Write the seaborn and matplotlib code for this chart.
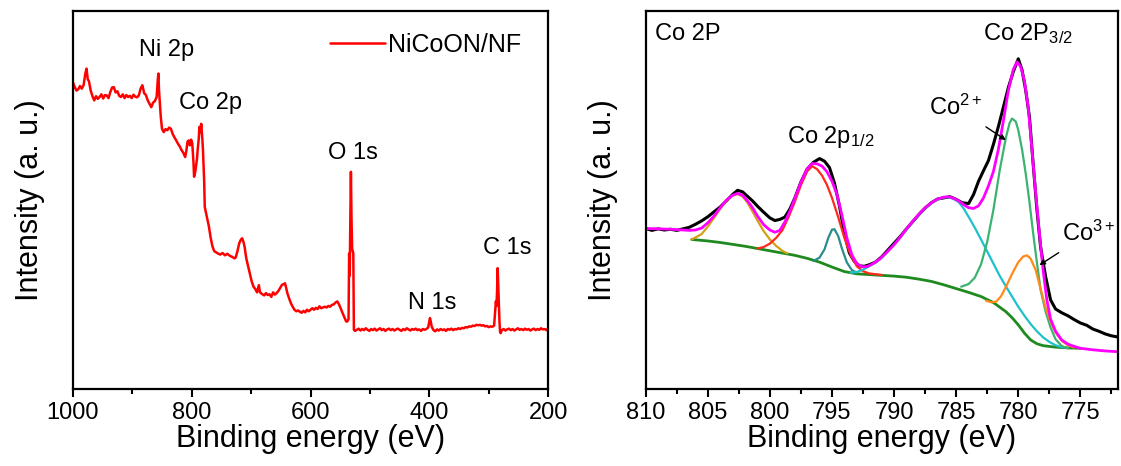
import seaborn as sns
import matplotlib.pyplot as plt
from matplotlib.ticker import MultipleLocator

# ---- survey spectrum (left) ----
survey_be = [1000, 997, 994, 991, 988, 985, 982, 979, 977, 975, 973, 970, 967, 964, 961, 958, 955, 952, 949, 946,
             943, 940, 937, 934, 931, 928, 925, 922, 919, 916, 913, 910, 907, 904, 901, 898, 895, 892, 889, 886,
             883, 880, 877, 874, 871, 868, 865, 862, 859, 857, 856, 855, 854, 852, 850, 847, 844, 841, 838, 835,
             832, 829, 826, 823, 820, 817, 814, 811, 809, 807, 805, 803, 801, 799, 797, 796, 794, 793, 791, 790,
             788, 787, 785, 784, 782, 781, 779, 778, 775, 773, 771, 768, 765, 762, 759, 756, 752, 748, 744, 740,
             736, 732, 728, 726, 723, 720, 717, 715, 713, 711, 708, 705, 702, 699, 696, 693, 690, 687, 685, 682,
             678, 675, 672, 669, 666, 663, 660, 657, 654, 651, 648, 645, 643, 641, 639, 636, 633, 630, 627, 624,
             621, 618, 615, 612, 609, 606, 603, 600, 597, 594, 591, 588, 585, 582, 579, 576, 573, 570, 567, 564,
             561, 558, 555, 552, 549, 546, 543, 540, 538, 536, 535, 534, 533, 532, 531, 530, 529, 528, 527, 525,
             522, 519, 516, 513, 510, 507, 504, 501, 498, 495, 492, 489, 486, 483, 480, 477, 474, 471, 468, 465,
             462, 459, 456, 453, 450, 447, 444, 441, 438, 435, 432, 429, 426, 423, 420, 417, 414, 411, 408, 405,
             402, 400, 399, 398, 396, 393, 390, 387, 384, 381, 378, 375, 372, 369, 366, 363, 360, 357, 354, 351,
             348, 345, 342, 339, 336, 333, 330, 327, 324, 321, 318, 315, 312, 309, 306, 303, 300, 297, 294, 291,
             289, 288, 287, 286, 285, 284, 283, 282, 281, 280, 278, 275, 272, 269, 266, 263, 260, 257, 254, 251,
             248, 245, 242, 239, 236, 233, 230, 227, 224, 221, 218, 215, 212, 209, 206, 203, 200]
survey_int = [81.2, 80.0, 79.0, 79.3, 80.2, 79.5, 80.4, 83.5, 84.8, 82.0, 81.5, 79.0, 77.5, 76.4, 77.5, 76.8, 77.3, 78.0, 76.9, 77.8,
              77.7, 77.0, 78.6, 79.8, 79.9, 78.5, 78.8, 77.6, 77.3, 78.0, 77.0, 77.8, 77.3, 77.6, 77.0, 77.9, 77.4, 77.2, 77.7, 79.5,
              80.4, 78.3, 77.8, 76.4, 75.5, 74.6, 75.8, 76.2, 77.3, 82.0, 83.5, 79.0, 76.4, 72.0, 68.9, 68.0, 68.8, 68.5, 69.2, 68.9,
              67.5, 66.6, 65.8, 64.9, 64.2, 63.2, 62.5, 61.4, 63.0, 65.5, 65.8, 64.5, 66.0, 65.0, 60.0, 56.2, 57.5, 58.8, 61.0, 63.2,
              66.5, 69.4, 68.0, 70.2, 66.0, 63.2, 55.0, 48.2, 46.0, 44.5, 43.0, 40.0, 37.7, 36.5, 36.2, 35.9, 35.6, 36.0, 35.4, 35.8,
              35.3, 35.0, 34.6, 34.8, 36.5, 38.6, 39.6, 39.9, 39.0, 37.7, 34.5, 32.4, 30.5, 28.5, 27.1, 26.5, 25.6, 27.5, 25.6, 25.2,
              24.8, 25.4, 24.9, 25.1, 24.4, 25.6, 25.0, 25.4, 26.0, 26.8, 27.6, 27.8, 28.0, 26.8, 25.4, 24.0, 22.7, 21.8, 21.0, 20.6,
              20.8, 20.5, 20.2, 20.7, 20.3, 21.0, 20.6, 21.0, 21.4, 21.0, 21.5, 21.2, 21.9, 21.4, 21.6, 21.8, 21.6, 22.0, 21.8, 22.3,
              22.4, 22.9, 23.2, 22.4, 21.3, 20.1, 19.0, 17.9, 17.9, 18.5, 35.9, 30.0, 45.0, 57.5, 45.0, 37.2, 36.5, 35.9, 15.7, 15.4,
              15.7, 16.0, 15.5, 15.9, 15.6, 16.1, 15.7, 15.4, 15.9, 15.6, 16.0, 15.5, 15.8, 16.1, 15.6, 15.9, 15.4, 15.8, 16.0, 15.6,
              15.9, 15.5, 15.8, 16.0, 15.7, 15.4, 15.9, 15.6, 16.1, 15.8, 15.5, 15.9, 15.7, 16.0, 15.6, 15.8, 15.4, 15.9, 15.7, 15.9,
              16.3, 18.0, 18.8, 18.2, 16.5, 15.6, 15.3, 15.8, 15.5, 15.9, 15.6, 15.8, 15.4, 15.9, 15.7, 16.0, 15.6, 15.9, 15.8, 16.1,
              15.9, 16.2, 16.1, 16.4, 16.3, 16.6, 16.5, 16.8, 16.7, 17.0, 16.9, 17.0, 16.8, 16.9, 16.6, 16.7, 16.4, 16.6, 16.5, 16.8,
              21.0, 23.2, 22.0, 26.0, 32.0, 27.0, 22.7, 18.0, 15.2, 14.8, 15.6, 15.9, 15.5, 15.8, 16.0, 15.6, 15.9, 15.5, 15.8, 16.1,
              15.7, 15.9, 15.6, 16.0, 15.7, 15.9, 15.5, 15.8, 16.0, 15.6, 15.9, 15.7, 16.1, 15.8, 15.9, 15.6, 16.1]
survey_peaks = ["Ni 2p", "Co 2p", "O 1s", "N 1s", "C 1s"]
survey_peak_be = [843, 768, 528, 395, 269]
survey_peak_y = [89.7, 75.7, 62.4, 22.7, 37.3]

# ---- Co 2p high resolution (right) ----
raw_be = [810.0, 809.5, 809.0, 808.5, 808.0, 807.5, 807.0, 806.5, 806.0, 805.5, 805.0, 804.5, 804.0, 803.5, 803.0,
          802.6, 802.2, 801.8, 801.4, 801.0, 800.5, 800.0, 799.6, 799.2, 798.8, 798.4, 798.0, 797.5, 797.0, 796.5,
          796.0, 795.6, 795.2, 794.8, 794.4, 794.0, 793.6, 793.2, 792.8, 792.4, 792.0, 791.5, 791.0, 790.5, 790.0,
          789.5, 789.0, 788.5, 788.0, 787.5, 787.0, 786.5, 786.0, 785.5, 785.0, 784.5, 784.0, 783.6, 783.2, 782.8,
          782.4, 782.0, 781.6, 781.2, 780.8, 780.4, 780.0, 779.7, 779.4, 779.1, 778.8, 778.5, 778.2, 777.8, 777.4,
          777.0, 776.5, 776.0, 775.5, 775.0, 774.5, 774.0, 773.5, 773.0, 772.5, 772.0]
raw_int = [42.5, 42.0, 42.4, 42.1, 42.3, 42.0, 42.4, 42.8, 43.6, 44.5, 45.6, 46.9, 48.2, 49.8, 51.5,
           52.6, 52.2, 51.0, 49.8, 48.4, 46.8, 45.3, 44.6, 44.9, 45.5, 47.6, 50.5, 54.8, 58.2, 60.0,
           61.0, 60.3, 58.6, 54.5, 48.5, 41.2, 36.0, 33.8, 32.6, 32.5, 32.9, 33.6, 35.0, 36.8, 38.6,
           40.4, 42.4, 44.3, 46.2, 47.9, 49.3, 50.3, 50.6, 50.9, 50.2, 49.3, 49.1, 51.5, 55.0, 57.8,
           60.5, 64.8, 69.5, 74.6, 79.8, 84.0, 87.4, 84.5, 79.0, 72.0, 59.5, 47.5, 37.5, 29.8, 23.6,
           21.2, 20.2, 19.4, 18.4, 17.5, 16.9, 15.9, 15.3, 14.6, 14.1, 13.8]

fit_be = [810.0, 808.0, 806.5, 806.0, 805.5, 805.0, 804.5, 804.0, 803.5, 803.0, 802.6, 802.2, 801.8, 801.4, 801.0,
          800.5, 800.0, 799.6, 799.2, 798.8, 798.4, 798.0, 797.5, 797.0, 796.6, 796.2, 795.8, 795.4, 795.0, 794.6,
          794.2, 793.8, 793.4, 793.0, 792.6, 792.2, 791.8, 791.2, 790.5, 790.0, 789.5, 789.0, 788.5, 788.0, 787.5,
          787.0, 786.5, 786.0, 785.6, 785.2, 784.8, 784.4, 784.0, 783.6, 783.2, 782.8, 782.4, 782.0, 781.6, 781.2,
          780.8, 780.4, 780.1, 779.8, 779.5, 779.2, 778.9, 778.6, 778.3, 778.0, 777.7, 777.4, 777.0, 776.5, 776.0,
          775.5, 775.0, 774.0, 773.0, 772.0]
fit_int = [42.5, 42.3, 42.0, 42.1, 42.6, 44.0, 45.8, 48.0, 50.0, 51.3, 51.8, 51.3, 49.8, 48.0, 45.8,
           43.5, 42.1, 41.5, 42.0, 44.2, 47.0, 50.4, 54.8, 58.3, 59.7, 59.6, 59.0, 57.5, 55.0, 51.5,
           46.0, 40.0, 35.5, 33.2, 32.4, 32.4, 33.0, 34.3, 36.5, 38.2, 40.2, 42.4, 44.4, 46.3, 48.0,
           49.3, 50.3, 50.8, 50.9, 50.5, 49.8, 48.8, 48.0, 47.8, 48.5, 50.6, 53.8, 57.6, 63.5, 71.0,
           79.0, 84.6, 86.6, 85.3, 81.5, 74.5, 63.4, 52.0, 41.2, 31.5, 23.6, 18.5, 15.3, 13.0, 11.9,
           11.3, 10.8, 10.4, 10.1, 9.9]

bg_be = [806.3, 805.0, 804.0, 803.0, 802.0, 801.0, 800.0, 799.0, 798.0, 797.0, 796.0, 795.0, 794.0, 793.0, 792.0,
         791.0, 790.0, 789.0, 788.0, 787.0, 786.0, 785.0, 784.0, 783.0, 782.0, 781.0, 780.5, 780.0, 779.5, 779.0,
         778.5, 778.0, 777.0, 776.0, 775.0]
bg_int = [39.6, 39.2, 38.8, 38.3, 37.8, 37.2, 36.6, 36.0, 35.4, 34.6, 33.6, 32.3, 31.1, 30.5, 30.3,
          30.1, 29.9, 29.6, 29.1, 28.5, 27.6, 26.6, 25.6, 24.5, 22.9, 20.5, 18.9, 17.0, 14.8, 13.0,
          12.0, 11.5, 11.1, 10.9, 10.8]

sat1_be = [806.3, 805.5, 805.0, 804.5, 804.0, 803.5, 803.0, 802.6, 802.2, 801.8, 801.4, 801.0, 800.5, 800.0, 799.5,
           799.0, 798.6]
sat1_int = [39.6, 41.0, 43.0, 45.3, 47.7, 49.8, 51.2, 51.6, 51.0, 49.3, 47.0, 44.6, 41.8, 39.6, 37.9,
            36.6, 35.9]

p12_be = [801.0, 800.5, 800.0, 799.5, 799.0, 798.5, 798.0, 797.5, 797.0, 796.6, 796.2, 795.8, 795.4, 795.0, 794.5,
          794.0, 793.5, 793.0, 792.5, 792.0, 791.0]
p12_int = [37.2, 37.6, 38.5, 40.0, 42.0, 45.5, 49.5, 54.0, 57.6, 59.0, 58.2, 56.5, 54.0, 50.6, 45.5,
           40.0, 35.5, 32.5, 31.2, 30.6, 30.2]

p12b_be = [796.5, 796.0, 795.6, 795.3, 795.0, 794.8, 794.5, 794.2, 793.8, 793.4, 793.0]
p12b_int = [33.9, 34.8, 37.0, 40.0, 42.2, 42.3, 40.5, 37.2, 33.5, 31.5, 30.8]

sat2_be = [793.5, 793.0, 792.5, 792.0, 791.5, 791.0, 790.5, 790.0, 789.5, 789.0, 788.5, 788.0, 787.5, 787.0, 786.5,
           786.0, 785.6, 785.2, 784.8, 784.4, 784.0, 783.5, 783.0, 782.5, 782.0, 781.5, 781.0, 780.5, 780.0, 779.5,
           779.0, 778.5, 778.0, 777.5, 777.0, 776.5, 776.0]
sat2_int = [30.8, 31.0, 31.6, 32.5, 33.5, 34.7, 36.4, 38.2, 40.2, 42.3, 44.3, 46.2, 47.9, 49.2, 50.2,
            50.7, 50.8, 50.3, 49.5, 47.8, 45.6, 42.7, 39.6, 36.4, 33.2, 30.0, 27.2, 24.5, 21.8, 19.4,
            17.2, 15.3, 13.7, 12.5, 11.6, 11.1, 10.9]

co2_be = [784.6, 784.0, 783.5, 783.0, 782.5, 782.0, 781.5, 781.0, 780.7, 780.5, 780.2, 780.0, 779.7, 779.4, 779.1,
          778.8, 778.5, 778.2, 777.8, 777.4, 777.0, 776.5, 776.0]
co2_int = [27.1, 27.8, 29.5, 33.0, 39.0, 47.5, 57.8, 66.5, 70.4, 71.6, 70.8, 68.5, 63.5, 57.0, 49.5,
           41.2, 33.5, 26.2, 20.5, 16.3, 13.2, 11.4, 10.8]

co3_be = [782.6, 782.2, 781.8, 781.4, 781.0, 780.5, 780.0, 779.6, 779.3, 779.0, 778.6, 778.2, 777.8, 777.4, 777.0,
          776.5, 776.0, 775.5]
co3_int = [23.4, 23.0, 23.1, 24.5, 27.0, 30.5, 33.6, 35.1, 35.4, 34.5, 31.5, 26.5, 21.5, 17.8, 15.0,
           12.8, 11.6, 11.0]

sns.set_style("ticks")
plt.rcParams['font.family'] = ['Liberation Sans', 'DejaVu Sans']
plt.rcParams['mathtext.default'] = 'regular'
plt.rcParams['text.color'] = 'black'
plt.rcParams['axes.labelcolor'] = 'black'
plt.rcParams['xtick.color'] = 'black'
plt.rcParams['ytick.color'] = 'black'

fig = plt.figure(figsize=(11.21, 4.66), dpi=100, facecolor='white')
ax1 = fig.add_axes([0.065, 0.165, 0.424, 0.811])
ax2 = fig.add_axes([0.576, 0.165, 0.421, 0.811])

# left panel
sns.lineplot(x=survey_be, y=survey_int, ax=ax1, color="#FF0000", linewidth=1.8, label="NiCoON/NF")
for name, bx, by in zip(survey_peaks, survey_peak_be, survey_peak_y):
    ax1.text(bx, by, name, fontsize=17, ha='center', va='center')
ax1.set_xlim(1000, 200)
ax1.xaxis.set_major_locator(MultipleLocator(200))
ax1.xaxis.set_minor_locator(MultipleLocator(100))
ax1.legend(loc='center right', bbox_to_anchor=(0.99, 0.91), frameon=False, fontsize=18,
           handlelength=2.2, handletextpad=0.1)

# right panel
sns.lineplot(x=raw_be, y=raw_int, ax=ax2, color="black", linewidth=2.2)
sns.lineplot(x=bg_be, y=bg_int, ax=ax2, color="#1F8A1F", linewidth=2.0)
sns.lineplot(x=sat1_be, y=sat1_int, ax=ax2, color="#D4A017", linewidth=1.6)
sns.lineplot(x=p12_be, y=p12_int, ax=ax2, color="#FF2A1A", linewidth=1.6)
sns.lineplot(x=p12b_be, y=p12b_int, ax=ax2, color="#2A8C8C", linewidth=1.6)
sns.lineplot(x=sat2_be, y=sat2_int, ax=ax2, color="#1EC0CC", linewidth=1.6)
sns.lineplot(x=co2_be, y=co2_int, ax=ax2, color="#3CB371", linewidth=1.6)
sns.lineplot(x=co3_be, y=co3_int, ax=ax2, color="#FF8A1A", linewidth=1.6)
sns.lineplot(x=fit_be, y=fit_int, ax=ax2, color="#FF00FF", linewidth=2.0)
ax2.set_xlim(810, 772)
ax2.xaxis.set_major_locator(MultipleLocator(5))
ax2.xaxis.set_minor_locator(MultipleLocator(2.5))

ax2.text(0.02, 0.94, "Co 2P", transform=ax2.transAxes, fontsize=17, ha='left', va='center')
ax2.text(779.2, 94.2, "Co 2P$_{3/2}$", fontsize=17, ha='center', va='center')
ax2.text(795.1, 66.7, "Co 2p$_{1/2}$", fontsize=17, ha='center', va='center')
ax2.annotate("Co$^{2+}$", xy=(781.0, 65.9), xytext=(785.0, 74.6), fontsize=17, ha='center', va='center',
             arrowprops=dict(arrowstyle='-|>', color='black', lw=1.0, shrinkA=5, shrinkB=0, mutation_scale=8))
ax2.annotate("Co$^{3+}$", xy=(778.3, 32.8), xytext=(774.3, 41.3), fontsize=17, ha='center', va='center',
             arrowprops=dict(arrowstyle='-|>', color='black', lw=1.0, shrinkA=5, shrinkB=0, mutation_scale=8))

for ax in (ax1, ax2):
    ax.set_ylim(0, 100)
    ax.set_yticks([])
    ax.set_xlabel("Binding energy (eV)", fontsize=22, labelpad=0)
    ax.set_ylabel("Intensity (a. u.)", fontsize=22, labelpad=20)
    ax.tick_params(axis='x', which='major', direction='out', length=6, width=1.5, labelsize=17, pad=3)
    ax.tick_params(axis='x', which='minor', direction='out', length=3.5, width=1.5)
    for s in ax.spines.values():
        s.set_visible(True)
        s.set_linewidth(1.6)
        s.set_color('black')

fig.savefig("out.png", dpi=100, facecolor='white')
plt.close(fig)
